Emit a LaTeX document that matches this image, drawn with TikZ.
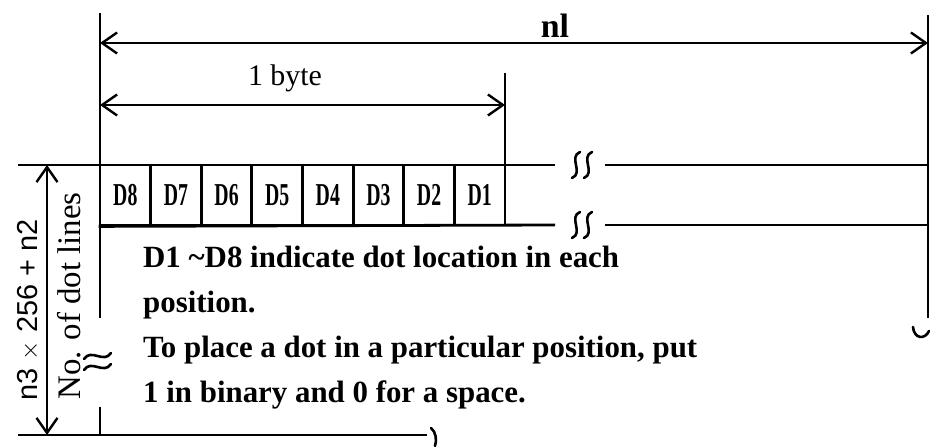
\documentclass[tikz,border=0pt]{standalone}
\usepackage{fontspec}
\setmainfont{Liberation Serif}
\setsansfont{Liberation Sans}
\usetikzlibrary{arrows.meta}
\begin{document}
\begin{tikzpicture}[x=1bp,y=-1bp,
  ln/.style={line width=2.8bp},
  barb/.tip={Straight Barb[length=15bp,width=21bp,line width=2.4bp]},
  dim/.style={ln,barb-barb},
  body/.style={font=\fontsize{31}{36}\selectfont\bfseries, anchor=base west, inner sep=0pt},
  cellbox/.style={draw, line width=2.8bp, minimum width=50.625bp, minimum height=60bp, inner sep=0pt, font=\fontsize{32}{36}\selectfont\bfseries},
  brk/.style={line width=2.6bp, line cap=round}]
\useasboundingbox (0,0) rectangle (930,447);

% reference coordinates
\coordinate (Ltop) at (100,13);
\coordinate (Lmid) at (100,318);
\coordinate (Lbot1) at (100,407);
\coordinate (Lbot2) at (100,435);
\coordinate (Rtop) at (928,15);
\coordinate (Rbot) at (928,318);
\coordinate (Btop) at (505,73);
\coordinate (Bbot) at (505,225);
\coordinate (n1a) at (100,43);
\coordinate (n1b) at (928,43);
\coordinate (bya) at (100,105);
\coordinate (byb) at (505,105);

% vertical extension lines
\draw[ln] (Ltop) -- (Lmid);
\draw[ln] (Lbot1) -- (Lbot2);
\draw[ln] (Rtop) -- (Rbot);
\draw[ln] (Btop) -- (Bbot);

% dimension arrows
\draw[dim] (n1a) -- (n1b);
\node[font=\fontsize{34}{40}\selectfont\bfseries, inner sep=0pt] (nl) at (555,26) {nl};
\draw[dim] (bya) -- (byb);
\node[font=\fontsize{30}{36}\selectfont, inner sep=0pt] (byte) at (285,78) {1 byte};

% cells
\foreach \lab [count=\i from 0] in {D8,D7,D6,D5,D4,D3,D2,D1}{
  \node[cellbox] (c\lab) at ({100+50.625*(\i+0.5)},195) {\scalebox{0.62}[1]{\lab}};
}

% horizontal lines
\coordinate (Tl) at (18,165);
\coordinate (Ta) at (555,165);
\coordinate (Tb) at (605,165);
\coordinate (Tr) at (928,165);
\coordinate (Ba) at (555,225);
\coordinate (Bb) at (605,225);
\coordinate (Br) at (928,225);
\draw[ln] (Tl) -- (Ta);
\draw[ln] (Tb) -- (Tr);
\draw[ln] (cD8.south west) -- (Ba);
\draw[ln] (Bb) -- (Br);

% break marks on horizontal lines
\foreach \yy in {165,225}{
  \foreach \xx in {576,588}{
    \draw[brk] (\xx+4,\yy-13) .. controls (\xx-8,\yy-8) and (\xx+8,\yy+8) .. (\xx-4,\yy+13);
  }
}
% break mark on left vertical line
\foreach \yy in {356,367}{
  \draw[brk] (84,\yy+3) .. controls (91,\yy-8) and (104,\yy+8) .. (111,\yy-3);
}
% hook at right end
\draw[brk] (913,327) .. controls (914,339) and (925,340) .. (929,331);

% left dimension (no. of dot lines)
\coordinate (Vt) at (47,165);
\coordinate (Vb) at (47,435);
\draw[dim] (Vt) -- (Vb);
\coordinate (Bl) at (18,435);
\coordinate (Brt) at (427,435);
\draw[ln] (Bl) -- (Brt);
\draw[brk] (431,428) .. controls (436,432) and (437,440) .. (435,446);

\node[rotate=90, font=\sffamily\fontsize{29}{32}\selectfont, inner sep=0pt] (n3) at (28,310) {n3\;$\times$\;256\;+\;n2};
\node[rotate=90, font=\fontsize{33}{36}\selectfont, inner sep=0pt] (nod) at (69,296) {No. of dot lines};

% explanation text
\node[body] (t1) at (143,268) {D1 \textasciitilde D8 indicate dot location in each};
\node[body] (t2) at (143,313) {position.};
\node[body] (t3) at (143,358) {To place a dot in a particular position, put};
\node[body] (t4) at (143,402) {1 in binary and 0 for a space.};
\end{tikzpicture}
\end{document}
